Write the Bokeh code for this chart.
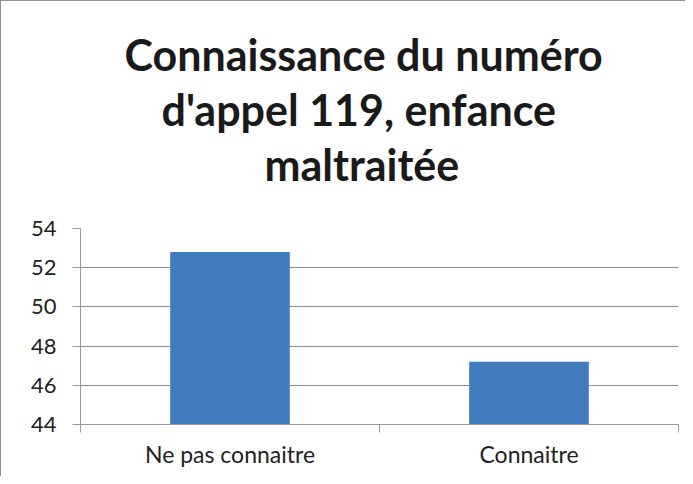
from bokeh.plotting import figure
from bokeh.models import Range1d, FixedTicker, Title, ColumnDataSource
from bokeh.embed import file_html
from bokeh.resources import INLINE

title_lines = ["Connaissance du numéro", "d'appel 119, enfance", "maltraitée"]
categories = ["Ne pas connaitre", "Connaitre"]
values = [52.8, 47.2]
y_ticks = [44, 46, 48, 50, 52, 54]

FONT = "Lato"
GRID = "#8c8c8c"
AXIS = "#9a9a9a"
BAR = "#3f7bbd"

n = len(categories)
xs = [i + 0.5 for i in range(n)]

p = figure(width=685, height=476, output_backend="svg", toolbar_location=None,
           x_range=Range1d(0, n), y_range=Range1d(y_ticks[0], y_ticks[-1]),
           min_border_left=79, min_border_right=8, min_border_top=227,
           min_border_bottom=53)
p.styles = {"border-left": "1px solid #8f8f8f", "border-top": "1px solid #8f8f8f"}
p.outline_line_color = None
p.background_fill_color = "white"
p.border_fill_color = "white"

src = ColumnDataSource(dict(x=xs, top=values, cat=categories))
p.vbar(x="x", top="top", bottom=y_ticks[0], width=0.4, source=src,
       fill_color=BAR, line_color=None)

# y axis
p.yaxis.ticker = FixedTicker(ticks=y_ticks, minor_ticks=[])
p.yaxis.axis_line_color = AXIS
p.yaxis.major_tick_line_color = AXIS
p.yaxis.major_tick_out = 8
p.yaxis.major_tick_in = 0
p.yaxis.minor_tick_line_color = None
p.yaxis.major_label_text_font = FONT
p.yaxis.major_label_text_font_size = "22px"
p.yaxis.major_label_text_color = "#222222"
p.yaxis.major_label_standoff = 16

# x axis
p.xaxis.ticker = FixedTicker(ticks=xs, minor_ticks=list(range(n + 1)))
p.xaxis.major_label_overrides = {x: c for x, c in zip(xs, categories)}
p.xaxis.axis_line_color = AXIS
p.xaxis.major_tick_line_color = None
p.xaxis.major_tick_out = 0
p.xaxis.major_tick_in = 0
p.xaxis.minor_tick_line_color = AXIS
p.xaxis.minor_tick_out = 8
p.xaxis.minor_tick_in = 0
p.xaxis.major_label_text_font = FONT
p.xaxis.major_label_text_font_size = "23px"
p.xaxis.major_label_text_color = "#222222"
p.xaxis.major_label_standoff = 7

p.xgrid.grid_line_color = None
p.ygrid.ticker = FixedTicker(ticks=y_ticks)
p.ygrid.grid_line_color = GRID
p.ygrid.grid_line_width = 1.2

# spacer between the plot and the title block
p.add_layout(Title(text=" ", standoff=35, text_font_size="1px"), "above")
# title lines, added closest-to-plot first; left-aligned with offsets that centre them
offsets = [44, 81, 184]
for line, off in zip(reversed(title_lines), reversed(offsets)):
    p.add_layout(Title(text=line, align="left", offset=off, standoff=2,
                       text_font=FONT, text_font_style="bold",
                       text_font_size="43px", text_color="#1a1a1a"), "above")

open("out.html", "w").write(file_html(p, INLINE))
